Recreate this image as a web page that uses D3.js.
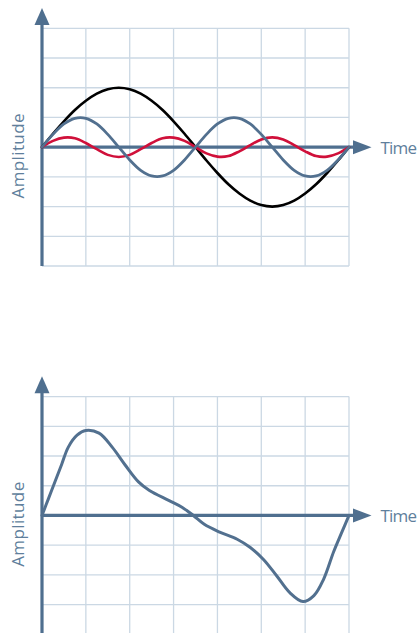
<!DOCTYPE html>
<html><head><meta charset="utf-8">
<script src="https://cdn.jsdelivr.net/npm/d3@7"></script>
<style>html,body{margin:0;padding:0;background:#fff;}svg{display:block;}</style>
</head><body>
<svg id="chart" width="419" height="633"></svg>
<script>
// Time positions (grid units, 7 columns) for the sine components
const timeSteps = [0,0.25,0.5,0.75,1,1.25,1.5,1.75,2,2.25,2.5,2.75,3,3.25,3.5,3.75,4,4.25,4.5,4.75,5,5.25,5.5,5.75,6,6.25,6.5,6.75,7];
// Fundamental (black)
const fundamental = [0,0.45,0.87,1.25,1.56,1.80,1.95,2.00,1.95,1.80,1.56,1.25,0.87,0.45,0,-0.45,-0.87,-1.25,-1.56,-1.80,-1.95,-2.00,-1.95,-1.80,-1.56,-1.25,-0.87,-0.45,0];
// Second harmonic (blue)
const harmonic2 = [0,0.43,0.78,0.97,0.97,0.78,0.43,0,-0.43,-0.78,-0.97,-0.97,-0.78,-0.43,0,0.43,0.78,0.97,0.97,0.78,0.43,0,-0.43,-0.78,-0.97,-0.97,-0.78,-0.43,0];
// Third harmonic (red)
const harmonic3 = [0,0.21,0.32,0.30,0.14,-0.07,-0.26,-0.33,-0.26,-0.07,0.14,0.30,0.32,0.21,0,-0.21,-0.32,-0.30,-0.14,0.07,0.26,0.33,0.26,0.07,-0.14,-0.30,-0.32,-0.21,0];
// Combined waveform (bottom chart)
const waveTime  = [0,0.15,0.3,0.45,0.6,0.8,1.0,1.3,1.6,1.9,2.2,2.45,2.9,3.2,3.45,3.7,4.05,4.45,4.75,5.05,5.35,5.65,5.95,6.2,6.42,6.65,6.82,7.0];
const waveValue = [0,0.575,1.15,1.725,2.3,2.7,2.86,2.77,2.3,1.69,1.13,0.84,0.5,0.27,0,-0.3,-0.56,-0.8,-1.08,-1.48,-2.03,-2.6,-2.9,-2.7,-2.15,-1.22,-0.62,0];
// Axis labels
const xLabel = "Time";
const yLabel = "Amplitude";
const xTicks = [0,1,2,3,4,5,6,7];
const yTicks = [-4,-3,-2,-1,0,1,2,3,4];

const axisColor = "#4f6f8f";
const gridColor = "#cbd8e4";
const textColor = "#5f7f9c";

const svg = d3.select("#chart");
const x = d3.scaleLinear().domain([0,7]).range([42,349]);
const y = d3.scaleLinear().domain([-4,4]).range([266,28.3]);

function panel(g, series, axisBottom) {
  // grid
  g.append("g").selectAll("line.v").data(xTicks.slice(1)).join("line")
    .attr("x1", d=>x(d)).attr("x2", d=>x(d)).attr("y1", y(4)).attr("y2", y(-4))
    .attr("stroke", gridColor).attr("stroke-width", 1.3);
  g.append("g").selectAll("line.h").data(yTicks.filter(d=>d!==0)).join("line")
    .attr("x1", x(0)).attr("x2", x(7)).attr("y1", d=>y(d)).attr("y2", d=>y(d))
    .attr("stroke", gridColor).attr("stroke-width", 1.3);
  // axes
  g.append("line").attr("x1", x(0)).attr("x2", x(0)).attr("y1", 24).attr("y2", axisBottom)
    .attr("stroke", axisColor).attr("stroke-width", 3.2);
  g.append("path").attr("d", `M${x(0)},8 L${x(0)-7.5},25 L${x(0)+7.5},25 Z`).attr("fill", axisColor);
  g.append("line").attr("x1", x(0)).attr("x2", 355).attr("y1", y(0)).attr("y2", y(0))
    .attr("stroke", axisColor).attr("stroke-width", 3.2);
  g.append("path").attr("d", `M371.5,${y(0)} L353,${y(0)-7} L353,${y(0)+7} Z`).attr("fill", axisColor);
  // labels
  g.append("text").attr("x", 380.5).attr("y", y(0)+6.5).text(xLabel)
    .attr("font-family", "Open Sans").attr("font-size", 17).attr("fill", textColor)
    .attr("textLength", 36.5).attr("lengthAdjust", "spacing");
  g.append("text").attr("transform", `translate(24,${156}) rotate(-90)`).attr("text-anchor", "middle")
    .text(yLabel).attr("font-family", "Open Sans").attr("font-size", 17).attr("fill", textColor)
    .attr("textLength", 85).attr("lengthAdjust", "spacing");
  // curves
  series.forEach(s => {
    const line = d3.line().x(d=>x(d[0])).y(d=>y(d[1])).curve(d3.curveCatmullRom.alpha(0.5));
    g.append("path").attr("d", line(d3.zip(s.t, s.v))).attr("fill", "none")
      .attr("stroke", s.color).attr("stroke-width", s.w).attr("stroke-linejoin", "round").attr("stroke-linecap", "round");
  });
}

panel(svg.append("g"), [
  {t: timeSteps, v: fundamental, color: "#000000", w: 2.6},
  {t: timeSteps, v: harmonic3, color: "#d0103a", w: 2.6},
  {t: timeSteps, v: harmonic2, color: "#52708f", w: 2.8}
], 266);

panel(svg.append("g").attr("transform", "translate(0,368.3)"), [
  {t: waveTime, v: waveValue, color: "#52708f", w: 3}
], 280);
</script>
</body></html>
